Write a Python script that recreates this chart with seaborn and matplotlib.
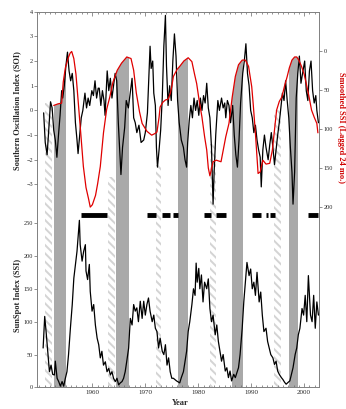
import matplotlib
matplotlib.use("Agg")
import matplotlib.pyplot as plt
from matplotlib.patches import Rectangle
from matplotlib.path import Path
from matplotlib.ticker import MultipleLocator
import seaborn as sns

# ---------- data ----------
soi_year = [1950.8, 1951.1, 1951.45, 1951.7, 1952.1, 1952.4, 1952.7, 1953.0, 1953.3, 1953.6,
            1953.9, 1954.2, 1954.4, 1954.7, 1955.0, 1955.3, 1955.6, 1955.9, 1956.2, 1956.5,
            1956.8, 1957.1, 1957.3, 1957.6, 1957.9, 1958.2, 1958.6, 1958.9, 1959.2, 1959.5,
            1959.9, 1960.2, 1960.5, 1960.8, 1961.1, 1961.3, 1961.6, 1961.9, 1962.2, 1962.4,
            1962.8, 1963.1, 1963.4, 1963.7, 1964.0, 1964.3, 1964.6, 1964.9, 1965.2, 1965.4,
            1965.7, 1966.1, 1966.4, 1966.8, 1967.1, 1967.5, 1967.8, 1968.1, 1968.4, 1968.8,
            1969.2, 1969.7, 1970.0, 1970.4, 1970.7, 1970.9, 1971.1, 1971.4, 1971.6, 1971.9,
            1972.1, 1972.3, 1972.6, 1972.9, 1973.2, 1973.5, 1973.8, 1974.0, 1974.3, 1974.6,
            1974.9, 1975.2, 1975.5, 1975.8, 1976.1, 1976.4, 1976.8, 1977.2, 1977.5, 1977.8,
            1978.0, 1978.3, 1978.6, 1978.9, 1979.2, 1979.5, 1979.8, 1980.1, 1980.4, 1980.7,
            1981.0, 1981.3, 1981.6, 1981.9, 1982.2, 1982.5, 1982.8, 1983.0, 1983.3, 1983.7,
            1984.0, 1984.4, 1984.7, 1985.0, 1985.2, 1985.5, 1985.8, 1986.1, 1986.5, 1986.8,
            1987.1, 1987.4, 1987.7, 1988.0, 1988.4, 1988.7, 1989.0, 1989.3, 1989.6, 1989.9,
            1990.2, 1990.5, 1990.8, 1991.1, 1991.4, 1991.7, 1991.9, 1992.2, 1992.5, 1992.8,
            1993.2, 1993.5, 1993.8, 1994.1, 1994.4, 1994.7, 1995.0, 1995.3, 1995.6, 1995.9,
            1996.2, 1996.5, 1996.8, 1997.1, 1997.4, 1997.7, 1997.9, 1998.2, 1998.5, 1998.8,
            1999.1, 1999.4, 1999.7, 2000.1, 2000.4, 2000.7, 2001.0, 2001.3, 2001.6, 2001.9,
            2002.2, 2002.4, 2002.7]
soi_val = [-0.1, -1.3, -1.8, -1.0, 0.35, 0.1, -0.8, -1.2, -1.9, -1.0,
           -0.2, 0.8, 0.5, 1.0, 1.8, 2.36, 1.6, 1.2, 1.5, 0.8,
           -0.5, -1.2, -1.75, -1.0, -0.3, 0.0, 0.7, 0.1, 0.5, 0.2,
           0.8, 0.6, 1.2, 0.5, 0.9, 0.9, 0.2, 0.8, 0.4, -0.2,
           1.6, 0.8, 1.3, 0.5, 1.0, 1.5, 1.2, -0.5, -1.8, -2.6,
           -1.5, -0.7, 0.4, 0.1, 0.6, 1.3, -0.3, -0.5, -0.9, -0.6,
           -1.3, -1.2, -0.9, -0.1, 1.5, 2.6, 1.7, 2.0, 0.7, 0.2,
           -1.5, -2.3, -1.6, -0.8, 0.5, 2.6, 3.85, 1.8, 0.2, 1.0,
           0.4, 2.0, 3.1, 2.2, 0.4, -0.5, -1.2, -1.5, -2.0, -2.3,
           -1.3, -0.4, 0.2, -0.3, 0.5, 0.0, 0.4, -0.2, 0.5, 0.0,
           0.6, 0.3, 1.1, 0.1, -0.3, -1.5, -3.8, -2.5, -1.0, 0.4,
           0.0, 0.5, 0.1, 0.3, -0.3, 0.4, 0.2, -0.5, 0.2, -1.0,
           -1.8, -2.3, -1.2, 0.3, 1.5, 2.0, 2.7, 1.5, 1.0, 0.0,
           -0.3, -0.9, -0.6, -1.2, -1.6, -1.9, -3.1, -1.6, -1.0, -1.5,
           -2.0, -1.4, -0.9, -1.5, -2.2, -1.6, -1.0, -0.5, 0.1, 0.7,
           0.4, 1.2, 0.4, -0.3, -1.5, -2.5, -3.8, -2.5, 0.5, 1.5,
           2.2, 1.1, 1.5, 2.0, 0.8, 0.4, 1.6, 2.0, 0.8, 0.3,
           0.6, 0.0, -0.5]

# smoothed sunspot index, lagged 24 months (right axis, inverted)
red_year = [1952.7, 1953.5, 1954.2, 1954.5, 1954.9, 1955.4, 1955.8, 1956.1, 1956.5, 1956.9,
            1957.3, 1957.8, 1958.3, 1958.8, 1959.3, 1959.6, 1960.0, 1960.6, 1961.0, 1961.5,
            1962.1, 1962.7, 1963.3, 1963.9, 1964.7, 1965.5, 1966.5, 1967.3, 1967.8, 1968.3,
            1968.9, 1969.4, 1970.3, 1971.2, 1971.8, 1972.2, 1972.6, 1972.8, 1973.3, 1973.8,
            1974.3, 1974.7, 1975.0, 1975.3, 1976.0, 1976.5, 1977.3, 1978.1, 1978.8, 1979.3,
            1979.7, 1980.2, 1980.7, 1981.2, 1981.6, 1981.9, 1982.2, 1982.8, 1983.4, 1984.3,
            1985.2, 1985.8, 1986.4, 1987.0, 1987.6, 1988.3, 1988.9, 1989.5, 1990.1, 1990.4,
            1990.8, 1991.3, 1991.7, 1992.2, 1992.8, 1993.5, 1994.0, 1994.5, 1994.8, 1995.3,
            1995.8, 1996.3, 1996.8, 1997.2, 1997.7, 1998.2, 1998.6, 1999.0, 1999.5, 2000.0,
            2000.4, 2000.9, 2001.4, 2001.9, 2002.4, 2002.6]
red_val = [70, 68, 67, 40, 22, 10, 3, 1, 10, 30,
           63, 105, 148, 175, 190, 200, 197, 185, 170, 148,
           105, 75, 59, 40, 25, 16, 8, 10, 25, 54,
           78, 93, 103, 108, 106, 104, 85, 72, 66, 63,
           62, 55, 46, 33, 24, 20, 13, 9, 14, 30,
           42, 65, 85, 110, 127, 150, 160, 142, 140, 142,
           110, 93, 60, 33, 18, 12, 12, 20, 46, 70,
           106, 157, 155, 140, 145, 144, 127, 95, 76, 65,
           59, 45, 33, 22, 12, 8, 8, 12, 20, 30,
           42, 58, 76, 85, 93, 105]

ssi_year = [1950.7, 1951.0, 1951.26, 1951.57, 1951.89, 1952.2, 1952.5, 1952.83, 1953.0, 1953.34,
            1953.64, 1953.96, 1954.28, 1954.58, 1954.9, 1955.2, 1955.5, 1955.85, 1956.2, 1956.5,
            1956.8, 1957.1, 1957.55, 1957.7, 1958.06, 1958.36, 1958.68, 1958.8, 1959.1, 1959.43,
            1959.6, 1959.94, 1960.25, 1960.57, 1960.9, 1961.2, 1961.5, 1961.8, 1962.1, 1962.45,
            1962.77, 1963.1, 1963.4, 1963.7, 1964.0, 1964.34, 1964.65, 1964.96, 1965.28, 1965.6,
            1965.9, 1966.2, 1966.5, 1966.85, 1967.17, 1967.5, 1967.8, 1968.1, 1968.4, 1968.7,
            1969.05, 1969.4, 1969.7, 1970.0, 1970.3, 1970.6, 1970.9, 1971.3, 1971.6, 1971.9,
            1972.2, 1972.5, 1972.8, 1973.2, 1973.5, 1973.8, 1974.1, 1974.4, 1974.7, 1975.0,
            1975.3, 1975.9, 1976.5, 1976.8, 1977.2, 1977.5, 1977.8, 1978.1, 1978.4, 1978.8,
            1979.1, 1979.4, 1979.6, 1979.8, 1980.1, 1980.3, 1980.6, 1980.9, 1981.2, 1981.6,
            1981.9, 1982.2, 1982.5, 1982.8, 1983.2, 1983.5, 1983.8, 1984.1, 1984.4, 1984.7,
            1985.1, 1985.4, 1985.7, 1986.0, 1986.3, 1986.7, 1987.0, 1987.6, 1987.9, 1988.3,
            1988.6, 1988.9, 1989.2, 1989.6, 1989.9, 1990.2, 1990.5, 1990.8, 1991.1, 1991.5,
            1991.8, 1992.1, 1992.4, 1992.8, 1993.1, 1993.4, 1993.7, 1994.1, 1994.4, 1994.7,
            1995.0, 1995.3, 1995.7, 1996.0, 1996.3, 1996.6, 1997.0, 1997.3, 1997.6, 1997.9,
            1998.3, 1998.6, 1998.9, 1999.2, 1999.6, 1999.9, 2000.2, 2000.5, 2000.8, 2001.2,
            2001.5, 2001.8, 2002.1, 2002.4, 2002.7]
ssi_val = [60, 108, 85, 55, 24, 34, 20, 19, 40, 14,
           9, 2, 9, 2, 14, 24, 50, 90, 126, 166,
           187, 207, 254, 217, 192, 207, 217, 177, 164, 187,
           146, 116, 126, 95, 75, 65, 45, 55, 34, 39,
           24, 29, 19, 24, 14, 9, 14, 4, 7, 9,
           14, 24, 40, 60, 105, 95, 126, 116, 121, 100,
           131, 105, 131, 110, 126, 136, 116, 100, 110, 90,
           85, 60, 75, 55, 50, 65, 34, 45, 24, 14,
           14, 10, 7, 15, 24, 40, 55, 85, 100, 126,
           150, 140, 189, 160, 181, 150, 171, 130, 160, 150,
           165, 120, 100, 110, 80, 95, 70, 55, 40, 50,
           25, 30, 15, 25, 10, 20, 15, 30, 50, 90,
           130, 160, 190, 170, 180, 150, 160, 140, 175, 130,
           145, 110, 85, 90, 70, 60, 50, 45, 35, 40,
           25, 20, 15, 12, 8, 5, 8, 10, 20, 30,
           50, 60, 80, 90, 120, 110, 140, 100, 170, 110,
           100, 140, 90, 130, 110]

# shaded periods
gray_start = [1952.8, 1964.5, 1976.2, 1986.4, 1997.2]
gray_end = [1955.1, 1967.0, 1978.1, 1988.5, 1998.9]
hatch_start = [1951.1, 1963.0, 1972.1, 1982.3, 1994.3]
hatch_end = [1952.3, 1964.2, 1973.0, 1983.4, 1995.7]
hatch_top = [0.3, -2.7, -2.2, -1.35, 0.0]   # in SOI units

# black bars (periods) drawn between the panels
bar_start = [1957.9, 1970.4, 1973.2, 1975.3, 1981.1, 1983.4, 1990.2, 1992.8, 1993.6, 2000.8]
bar_end = [1962.8, 1972.1, 1974.7, 1976.2, 1982.5, 1985.3, 1991.9, 1993.2, 1994.5, 2002.6]
bar_level = 262

sns.set_style("ticks")
plt.rcParams["font.family"] = ["Liberation Serif", "DejaVu Serif"]
plt.rcParams["hatch.linewidth"] = 1.4

fig = plt.figure(figsize=(3.46, 4.09), dpi=100)
rect = [0.1078, 0.0526, 0.8156, 0.9188]
ax = fig.add_axes(rect)
ax_soi = fig.add_axes(rect, sharex=ax)
ax_soi.patch.set_visible(False)
ax_red = ax.twinx()

# gray bands, clipped below the red curve
red_clip = Path([(red_year[0], 500)] + list(zip(red_year, red_val)) + [(red_year[-1], 500)])
for s, e in zip(gray_start, gray_end):
    span = ax.axvspan(s, e, color="#a9a9a9", lw=0, zorder=0)
    span.set_clip_path(red_clip, ax_red.transData)

# hatched bands
for s, e, top in zip(hatch_start, hatch_end, hatch_top):
    ax.add_patch(Rectangle((s, -11.23), e - s, top + 11.23, transform=ax_soi.transData,
                           facecolor="none", edgecolor="#d4d4d4", hatch="\\\\\\\\", lw=0, zorder=0))

ax.hlines([bar_level] * len(bar_start), bar_start, bar_end, color="black", lw=3.5, zorder=2)

sns.lineplot(x=ssi_year, y=ssi_val, ax=ax, color="black", lw=0.9, zorder=3)
sns.lineplot(x=soi_year, y=soi_val, ax=ax_soi, color="black", lw=0.9)
sns.lineplot(x=red_year, y=red_val, ax=ax_red, color="#e00000", lw=0.9)

ax.set_xlim(1949.6, 2002.9)
ax.set_ylim(0, 571)
ax_soi.set_ylim(-11.23, 4)
ax_red.set_ylim(430.7, -49.9)

# axes styling
for sp in ax.spines.values():
    sp.set_color("0.5")
    sp.set_linewidth(0.7)
for a in (ax_soi, ax_red):
    for sp in a.spines.values():
        sp.set_visible(False)

ax.set_xticks([1960, 1970, 1980, 1990, 2000])
ax.xaxis.set_minor_locator(MultipleLocator(1))
ax.tick_params(axis="x", which="both", direction="in", top=True, bottom=True,
               labelsize=5, pad=2, color="0.4", width=0.5)
ax.tick_params(axis="x", which="major", length=3)
ax.tick_params(axis="x", which="minor", length=1.5)
ax_soi.tick_params(axis="x", which="both", bottom=False, top=False, labelbottom=False)

ax.set_yticks(range(0, 251, 50))
ax_soi.set_yticks(range(-3, 5))
ax_red.set_yticks(range(0, 201, 50))
for a in (ax, ax_soi, ax_red):
    a.tick_params(axis="y", direction="out", length=2, width=0.5, labelsize=4.5, pad=1, color="0.4")

lab = dict(fontsize=6, fontweight="bold", va="center")
ax_soi.set_ylabel("Southern Oscillation Index (SOI)", **lab)
ax_soi.yaxis.set_label_coords(-0.070, 0.738)
ax.set_ylabel("SunSpot Index (SSI)", **lab)
ax.yaxis.set_label_coords(-0.070, 0.246)
ax_red.set_ylabel("Smoothed SSI (Lagged 24 mo.)", color="#d00000", rotation=270, **lab)
ax_red.yaxis.set_label_coords(1.076, 0.691)
ax.set_xlabel("Year", **lab)
ax.xaxis.set_label_coords(0.506, -0.041)

fig.savefig("out.png", dpi=100)
